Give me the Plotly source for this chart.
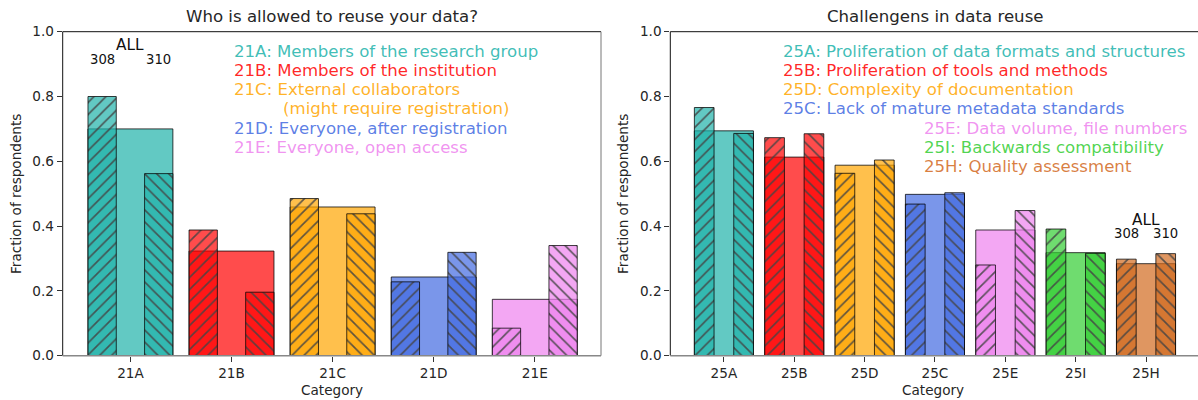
import plotly.graph_objects as go

W, H = 1198, 400

# Question 21: who is allowed to reuse the data
cats_21 = ["21A", "21B", "21C", "21D", "21E"]
all_21 = [0.700, 0.323, 0.459, 0.243, 0.174]
g308_21 = [0.800, 0.388, 0.485, 0.228, 0.085]
g310_21 = [0.562, 0.196, 0.438, 0.319, 0.340]
colors_21 = ["lightseagreen", "red", "orange", "royalblue", "violet"]
labels_21 = [
    "21A: Members of the research group",
    "21B: Members of the institution",
    "21C: External collaborators",
    "(might require registration)",
    "21D: Everyone, after registration",
    "21E: Everyone, open access",
]
label_colors_21 = ["lightseagreen", "red", "orange", "orange", "royalblue", "violet"]

# Question 25: challenges in data reuse
cats_25 = ["25A", "25B", "25D", "25C", "25E", "25I", "25H"]
all_25 = [0.694, 0.613, 0.588, 0.498, 0.388, 0.318, 0.284]
g308_25 = [0.766, 0.673, 0.563, 0.468, 0.280, 0.391, 0.298]
g310_25 = [0.686, 0.685, 0.604, 0.503, 0.448, 0.316, 0.315]
colors_25 = ["lightseagreen", "red", "orange", "royalblue", "violet", "limegreen", "chocolate"]
labels_25 = [
    "25A: Proliferation of data formats and structures",
    "25B: Proliferation of tools and methods",
    "25D: Complexity of documentation",
    "25C: Lack of mature metadata standards",
    "25E: Data volume, file numbers",
    "25I: Backwards compatibility",
    "25H: Quality assessment",
]
label_colors_25 = colors_25

group_names = ["ALL", "308", "310"]

RGB = {
    "lightseagreen": (32, 178, 170),
    "red": (255, 0, 0),
    "orange": (255, 165, 0),
    "royalblue": (65, 105, 225),
    "violet": (238, 130, 238),
    "limegreen": (50, 205, 50),
    "chocolate": (210, 105, 30),
}

FONT = "DejaVu Sans"
EDGE = "rgba(0,0,0,0.75)"


def rgba(name, a=0.7):
    r, g, b = RGB[name]
    return f"rgba({r},{g},{b},{a})"


def px(x):
    return x / W


def py(y):
    return 1 - y / H


fig = go.Figure()


def add_panel(cats, v_all, v_a, v_b, cols, xa, ya):
    fill = [rgba(c) for c in cols]
    line = dict(color=EDGE, width=1)
    fig.add_trace(go.Bar(
        x=cats, y=v_all, width=0.84, offset=-0.42,
        marker=dict(color=fill, line=line),
        xaxis=xa, yaxis=ya, showlegend=False, name="ALL",
    ))
    for vals, off, shape, nm in ((v_a, -0.42, "/", "308"), (v_b, 0.14, "\\", "310")):
        fig.add_trace(go.Bar(
            x=cats, y=vals, width=0.28, offset=off,
            marker=dict(
                color=fill, line=line,
                pattern=dict(shape=shape, fillmode="overlay", fgcolor="black",
                             fgopacity=0.85, size=8.5, solidity=0.2),
            ),
            xaxis=xa, yaxis=ya, showlegend=False, name=nm,
        ))


add_panel(cats_21, all_21, g308_21, g310_21, colors_21, "x", "y")
add_panel(cats_25, all_25, g308_25, g310_25, colors_25, "x2", "y2")

ydom = [py(355.7), py(31.7)]
tickfont = dict(family=FONT, size=13.6, color="#262626")
xcommon = dict(type="category", ticks="outside", ticklen=5, tickwidth=1, tickcolor="#333",
               showgrid=False, zeroline=False, showline=False, tickfont=tickfont,
               fixedrange=True, automargin=False)
ycommon = dict(range=[0, 1], tickvals=[0, 0.2, 0.4, 0.6, 0.8, 1.0], tickformat=".1f",
               ticks="outside", ticklen=5, tickwidth=1, tickcolor="#333", domain=ydom,
               showgrid=False, zeroline=False, showline=False, tickfont=tickfont,
               fixedrange=True, automargin=False)

fig.update_layout(
    width=W, height=H,
    margin=dict(l=0, r=0, t=0, b=0, pad=0, autoexpand=False),
    barmode="overlay",
    plot_bgcolor="white", paper_bgcolor="white",
    font=dict(family=FONT, size=13.6, color="#262626"),
    showlegend=False,
    xaxis=dict(domain=[px(62.7), px(601)], range=[-0.67, 4.655], anchor="y", **xcommon),
    yaxis=dict(anchor="x", **ycommon),
    xaxis2=dict(domain=[px(670.3), 1.0], range=[-0.762, 6.739], anchor="y2", **xcommon),
    yaxis2=dict(anchor="x2", **ycommon),
)

# axis frame lines
def spine(xa, ya, x0, y0, x1, y1, color, width):
    fig.add_shape(type="line", xref=f"{xa} domain", yref=f"{ya} domain",
                  x0=x0, y0=y0, x1=x1, y1=y1, layer="above",
                  line=dict(color=color, width=width))


for xa, ya, right in (("x", "y", True), ("x2", "y2", False)):
    spine(xa, ya, 0, 0, 0, 1, "#111", 1)
    spine(xa, ya, 0, 1, 1, 1, "#111", 1)
    if right:
        spine(xa, ya, 1, 0, 1, 1, "#777", 1)
    spine(xa, ya, 0, 0, 1, 0, "#888", 1.6)

ann = []


def text(x, y, s, size, color="#262626", xanchor="center", xref="paper", yref="paper", angle=0):
    ann.append(dict(x=x, y=y, text=s, xref=xref, yref=yref, showarrow=False,
                    xanchor=xanchor, yanchor="middle", textangle=angle,
                    font=dict(family=FONT, size=size, color=color)))


# titles and axis titles
text(px(332), py(16.5), "Who is allowed to reuse your data?", 16.6)
text(px(935), py(16.5), "Challengens in data reuse", 16.6)
text(px(332), py(390), "Category", 13.6)
text(px(933), py(390), "Category", 13.6)
text(px(16), py(194), "Fraction of respondents", 13.6, angle=-90)
text(px(623), py(194), "Fraction of respondents", 13.6, angle=-90)

# category descriptions
rows_21 = [51.7, 70.6, 89.5, 108.8, 128.1, 147.2]
starts_21 = [232.3, 232.3, 232.3, 281, 232.3, 232.3]
for s, c, y, x in zip(labels_21, label_colors_21, rows_21, starts_21):
    text(px(x), py(y), s, 16.6, color=rgba(c, 0.85), xanchor="left")

rows_25 = [51.7, 70.6, 89.5, 108.8, 128.1, 147.2, 166.2]
starts_25 = [781, 781, 781, 781, 922, 922, 922]
for s, c, y, x in zip(labels_25, label_colors_25, rows_25, starts_25):
    text(px(x), py(y), s, 16.6, color=rgba(c, 0.85), xanchor="left")

# group markers over the first / last category
text(0, 0.959, group_names[0], 15.3, color="#111", xref="x", yref="y")
text(-0.28, 0.915, group_names[1], 13.2, color="#111", xref="x", yref="y")
text(0.28, 0.915, group_names[2], 13.2, color="#111", xref="x", yref="y")
text(6, 0.419, group_names[0], 15.3, color="#111", xref="x2", yref="y2")
text(6 - 0.28, 0.376, group_names[1], 13.2, color="#111", xref="x2", yref="y2")
text(6 + 0.28, 0.376, group_names[2], 13.2, color="#111", xref="x2", yref="y2")

fig.update_layout(annotations=ann)

fig.write_html("out.html", config={"displayModeBar": False})
